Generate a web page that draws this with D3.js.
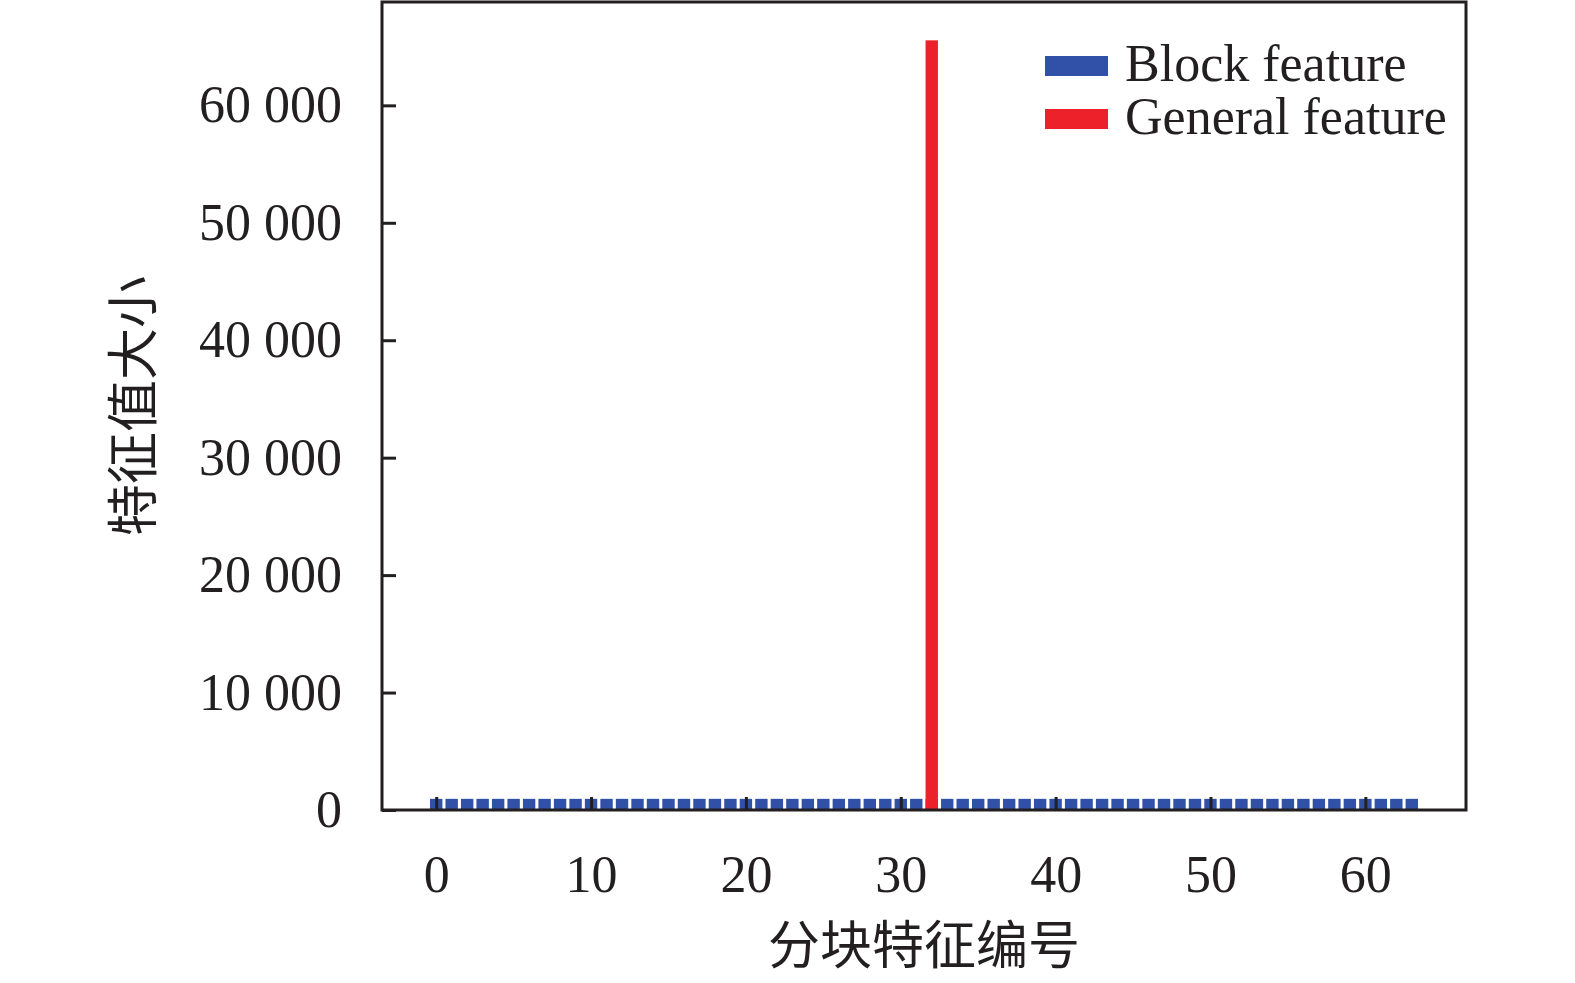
<!DOCTYPE html>
<html>
<head>
<meta charset="utf-8">
<script src="https://cdn.jsdelivr.net/npm/d3@7"></script>
<style>
  body { margin: 0; background: #fff; }
  svg text { fill: #231f20; }
</style>
</head>
<body>
<svg id="chart"></svg>
<script>
// block feature index 0..63, general feature sits at index 32
const blockIndex = d3.range(64);
const blockValues = [
  950, 950, 950, 950, 950, 950, 950, 950, 950, 950, 950, 950, 950, 950, 950, 950,
  950, 950, 950, 950, 950, 950, 950, 950, 950, 950, 950, 950, 950, 950, 950, 950,
  950, 950, 950, 950, 950, 950, 950, 950, 950, 950, 950, 950, 950, 950, 950, 950,
  950, 950, 950, 950, 950, 950, 950, 950, 950, 950, 950, 950, 950, 950, 950, 950
];
const generalIndex = [32];
const generalValues = [65536];
const xTicks = [0, 10, 20, 30, 40, 50, 60];
const yTicks = [0, 10000, 20000, 30000, 40000, 50000, 60000];
const seriesNames = ["Block feature", "General feature"];
const colors = { "Block feature": "#3151a8", "General feature": "#ed2129" };

const width = 1575, height = 983;
const margin = { top: 2, right: 109, bottom: 173, left: 382 };
const chartWidth = width - margin.left - margin.right;
const chartHeight = height - margin.top - margin.bottom;

const svg = d3.select("#chart").attr("width", width).attr("height", height);
const g = svg.append("g").attr("transform", `translate(${margin.left},${margin.top})`);

const x = d3.scaleLinear().domain([-3.5, 66.5]).range([0, chartWidth]);
const y = d3.scaleLinear().domain([0, 68800]).range([chartHeight, 0]);
const barW = x(0.8) - x(0);

const fmt = d3.formatLocale({ decimal: ".", thousands: " ", grouping: [3], currency: ["", ""] }).format(",");
const serif = "'Liberation Serif', 'Times New Roman', serif";
const cjk = "'Noto Sans CJK SC', sans-serif";

g.selectAll(".block")
  .data(blockIndex)
  .enter().append("rect")
  .attr("class", "block")
  .attr("x", i => x(i) - barW / 2)
  .attr("y", i => y(blockValues[i]))
  .attr("width", barW)
  .attr("height", i => y(0) - y(blockValues[i]))
  .attr("fill", colors["Block feature"]);

g.selectAll(".general")
  .data(generalIndex)
  .enter().append("rect")
  .attr("class", "general")
  .attr("x", d => x(d) - barW / 2)
  .attr("y", (d, i) => y(generalValues[i]))
  .attr("width", barW)
  .attr("height", (d, i) => y(0) - y(generalValues[i]))
  .attr("fill", colors["General feature"]);

const xAxis = g.append("g")
  .attr("transform", `translate(0,${chartHeight})`)
  .call(d3.axisBottom(x).tickValues(xTicks).tickSizeInner(-13).tickSizeOuter(0).tickPadding(45));
const yAxis = g.append("g")
  .call(d3.axisLeft(y).tickValues(yTicks).tickFormat(fmt).tickSizeInner(-14).tickSizeOuter(0).tickPadding(40));

[xAxis, yAxis].forEach(a => {
  a.select(".domain").remove();
  a.selectAll(".tick line").attr("stroke", "#231f20").attr("stroke-width", 3);
  a.selectAll("text").attr("font-family", serif).attr("font-size", 52).attr("fill", "#231f20");
});

g.append("rect")
  .attr("x", 0).attr("y", 0)
  .attr("width", chartWidth).attr("height", chartHeight)
  .attr("fill", "none").attr("stroke", "#231f20").attr("stroke-width", 3);

// legend
const legend = g.append("g").attr("transform", `translate(${1045 - margin.left},${56 - margin.top})`);
seriesNames.forEach((name, i) => {
  legend.append("rect")
    .attr("x", 0).attr("y", i * 53)
    .attr("width", 63).attr("height", 20)
    .attr("fill", colors[name]);
  legend.append("text")
    .attr("x", 80).attr("y", i * 53 + 25)
    .attr("font-family", serif).attr("font-size", 52)
    .text(name);
});

svg.append("text")
  .attr("x", margin.left + chartWidth / 2)
  .attr("y", 964)
  .attr("text-anchor", "middle")
  .attr("font-family", cjk).attr("font-size", 52)
  .text("分块特征编号");

svg.append("text")
  .attr("transform", `translate(152,${margin.top + chartHeight / 2}) rotate(-90)`)
  .attr("text-anchor", "middle")
  .attr("font-family", cjk).attr("font-size", 52)
  .text("特征值大小");
</script>
</body>
</html>
